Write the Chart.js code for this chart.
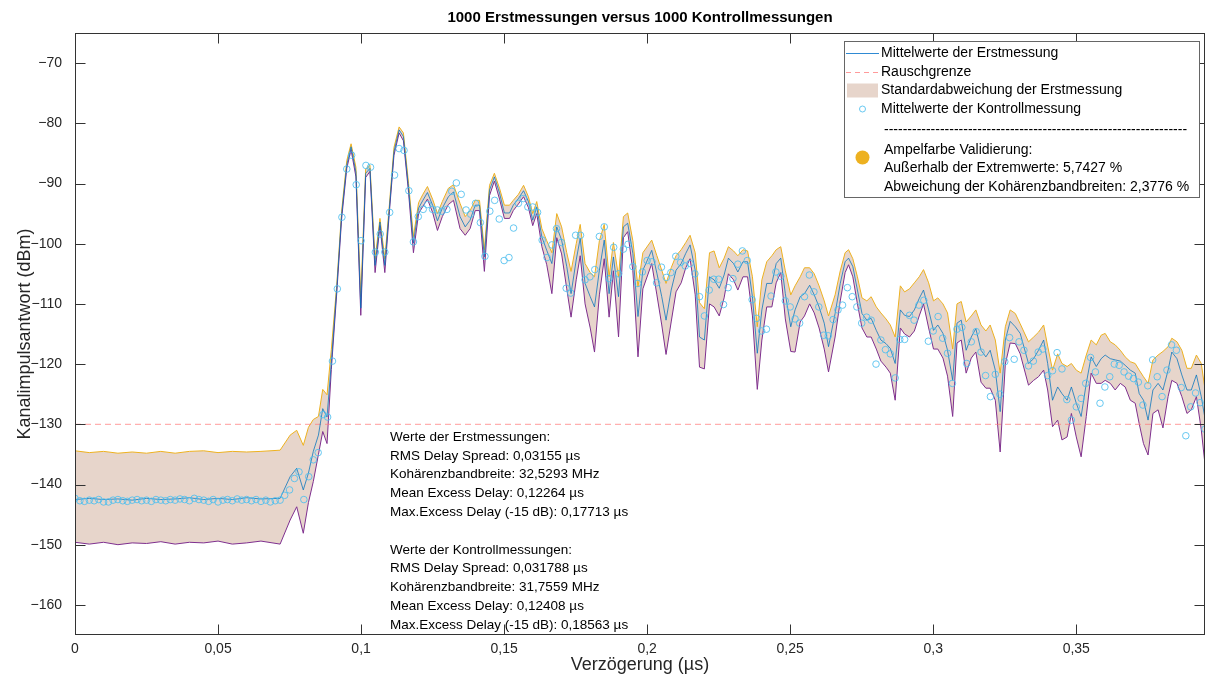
<!DOCTYPE html>
<html>
<head>
<meta charset="utf-8">
<script src="https://cdn.jsdelivr.net/npm/chart.js@4.4.1/dist/chart.umd.min.js"></script>
<style>
html,body{margin:0;padding:0;background:#fff;}
#wrap{width:1212px;height:684px;position:relative;}
</style>
</head>
<body>
<div id="wrap"><canvas id="c" width="1212" height="684" style="width:1212px;height:684px"></canvas></div>
<script>
// ---------- data ----------
const delays = [
  0, 0.005, 0.01, 0.015, 0.02, 0.025, 0.03, 0.035, 0.04, 0.045, 0.05, 0.055, 0.06, 0.065, 0.0717,
  0.0752, 0.0775, 0.0798, 0.0816, 0.0833, 0.0851, 0.0866, 0.0881, 0.0896, 0.0915, 0.0932, 0.095, 0.0965, 0.0982, 0.0999,
  0.1016, 0.1031, 0.1049, 0.1066, 0.1083, 0.1099, 0.1115, 0.1133, 0.1148, 0.1166, 0.1183, 0.1201, 0.1216, 0.1232, 0.125, 0.1267, 0.1284, 0.1305, 0.1323, 0.1346,
  0.1364, 0.1381, 0.1399, 0.1414, 0.1431, 0.1449, 0.1466, 0.1484, 0.1501, 0.1519, 0.1532, 0.155, 0.1568, 0.1585, 0.16, 0.1614, 0.1632, 0.1649, 0.1667, 0.1684,
  0.1701, 0.1719, 0.1734, 0.1752, 0.1766, 0.1783, 0.1801, 0.1816, 0.1833, 0.185, 0.1867, 0.1882, 0.19, 0.1917, 0.1932, 0.195, 0.1968, 0.1985,
  0.2016, 0.2034, 0.2051, 0.2066, 0.2084, 0.2101, 0.2119, 0.2135, 0.215, 0.2168, 0.2183, 0.22, 0.2218, 0.2234, 0.2252, 0.2269, 0.2284, 0.2302, 0.2317, 0.2335,
  0.2351, 0.2368, 0.2385, 0.2401, 0.2418, 0.2436, 0.2451, 0.2467, 0.2483, 0.2502, 0.2517, 0.2535, 0.255, 0.2568, 0.2584, 0.2601, 0.2619, 0.2634,
  0.2657, 0.2675, 0.2692, 0.2704, 0.2719, 0.2735, 0.2751, 0.2768, 0.2783, 0.2801, 0.2817, 0.2835, 0.285, 0.2867, 0.2885, 0.29, 0.2917, 0.2934, 0.2951, 0.2966,
  0.2984, 0.3001, 0.3016, 0.3034, 0.305, 0.3068, 0.3083, 0.3098, 0.3115, 0.3133, 0.3149, 0.3167, 0.3184, 0.3199, 0.3217, 0.3234, 0.3252, 0.3269,
  0.3287, 0.3304, 0.3333, 0.3351, 0.3368, 0.3386, 0.34, 0.3417, 0.3435, 0.345, 0.3468, 0.3483, 0.35, 0.3517, 0.3535, 0.3552, 0.357, 0.3587, 0.3601, 0.3619,
  0.3636, 0.3654, 0.3671, 0.3689, 0.3706, 0.372, 0.3735, 0.3751, 0.3768, 0.3786, 0.3803, 0.3821, 0.3834, 0.3852, 0.3869, 0.3887, 0.3902, 0.392, 0.3937, 0.3957
];

const meanErst = [
  -142.5, -142.3, -142.5, -142.4, -142.6, -142.3, -142.5, -142.4, -142.2, -142.5, -142.3, -142.5, -142.2, -142.4, -142.3,
  -138.7, -137.3, -140.9, -138.1, -134.5, -131.8, -127.4, -128.8, -119.8, -107.4, -95.2, -86.9, -83.9, -88.1, -110.7,
  -88.3, -87.5, -103.6, -96.4, -103.6, -94.1, -84.7, -81.1, -82.2, -90.8, -99.9, -94.1, -92.8, -91.5, -93.6, -96.2, -94.1, -92.2, -91.4, -95.5,
  -97.2, -96.1, -93.6, -93.6, -102.2, -91.1, -88.9, -91.6, -94.9, -94.9, -93.6, -92.5, -91.2, -93.0, -96.1, -93.9, -98.9, -101.1, -103.3, -97.2,
  -99.4, -103.8, -108.3, -102.7, -99.1, -106.6, -108.8, -110.5, -104.4, -99.4, -108.3, -102.2, -108.8, -97.2, -96.6, -101.6, -112.1, -104.4,
  -101.1, -104.9, -108.8, -112.7, -107.7, -104.4, -103.3, -101.6, -100.2, -104.4, -115.5, -116.0, -105.5, -106.0, -107.4, -105.2, -102.4, -103.3, -104.7, -103.0,
  -103.0, -108.8, -118.2, -111.0, -106.6, -106.6, -103.3, -102.4, -108.3, -113.8, -111.0, -108.8, -108.3, -106.9, -108.5, -110.5, -113.2, -117.1,
  -111.6, -106.6, -103.0, -102.4, -103.8, -107.7, -111.6, -112.7, -112.4, -114.4, -116.0, -116.6, -117.4, -119.9, -111.0, -111.9, -112.1, -111.0, -109.1, -107.7,
  -111.0, -114.4, -113.5, -114.9, -117.7, -122.7, -113.2, -112.7, -117.7, -115.5, -114.1, -117.7, -118.8, -117.7, -121.0, -127.9, -116.0, -112.9,
  -113.8, -114.9, -119.9, -119.1, -117.7, -116.0, -119.9, -126.0, -123.8, -124.9, -126.0, -123.8, -126.5, -128.7, -123.2, -118.8, -120.4, -119.1, -118.5, -119.1,
  -119.3, -119.5, -120.2, -121.0, -121.5, -124.9, -126.0, -129.3, -124.3, -123.2, -124.3, -121.0, -118.0, -119.1, -121.8, -124.3, -124.3, -121.8, -125.4, -131.0
];

const upperErst = [
  -134.4, -134.7, -134.5, -134.8, -134.6, -134.8, -134.5, -134.8, -134.5, -134.4, -134.7, -134.5, -134.6, -134.5, -134.3,
  -131.8, -131.0, -133.5, -130.5, -129.2, -128.7, -124.2, -125.1, -117.6, -106.8, -94.6, -86.2, -83.4, -87.3, -108.8,
  -87.6, -86.9, -102.5, -95.8, -102.5, -93.5, -84.0, -80.6, -81.6, -90.0, -98.8, -93.2, -91.8, -90.5, -92.6, -95.0, -93.0, -90.8, -90.2, -93.3,
  -95.5, -94.5, -92.8, -92.8, -101.0, -90.3, -88.3, -90.8, -93.6, -93.6, -92.8, -91.8, -90.3, -92.2, -95.0, -93.0, -97.5, -99.5, -101.5, -95.0,
  -97.2, -101.5, -104.6, -100.0, -96.8, -103.3, -104.8, -105.5, -99.5, -96.8, -105.5, -99.8, -105.5, -95.5, -94.9, -99.5, -107.2, -101.5,
  -99.4, -102.0, -104.4, -106.6, -104.0, -102.0, -101.0, -99.8, -98.6, -101.5, -109.8, -110.8, -101.5, -101.2, -104.0, -102.4, -100.5, -101.2, -102.0, -101.0,
  -101.2, -105.5, -113.8, -106.0, -103.0, -102.0, -101.0, -100.5, -104.5, -108.5, -107.0, -105.5, -104.0, -104.0, -105.0, -107.0, -109.5, -112.0,
  -108.5, -104.5, -101.5, -101.0, -102.5, -105.5, -109.0, -109.5, -108.8, -110.5, -111.5, -112.5, -113.5, -115.5, -107.0, -108.0, -107.5, -106.5, -105.5, -104.3,
  -106.5, -109.5, -109.0, -110.0, -111.5, -117.5, -110.0, -109.6, -113.0, -112.0, -111.0, -113.5, -114.5, -113.5, -116.0, -121.5, -113.8, -111.0,
  -111.6, -113.3, -116.3, -115.5, -114.7, -113.5, -117.0, -121.0, -118.3, -119.9, -120.4, -119.9, -121.0, -121.5, -118.5, -116.0, -116.8, -115.2, -114.9, -116.3,
  -116.8, -117.7, -118.8, -119.6, -119.9, -121.0, -122.1, -123.2, -119.3, -118.5, -117.9, -117.1, -115.7, -116.3, -117.7, -120.7, -120.7, -118.5, -119.9, -126.5
];

const lowerErst = [
  -149.6, -149.9, -149.6, -150.0, -149.7, -149.8, -149.5, -149.9, -149.6, -149.7, -149.4, -149.9, -149.7, -149.4, -149.9,
  -145.9, -143.7, -148.1, -143.0, -139.5, -135.0, -131.2, -133.2, -120.9, -108.2, -95.9, -87.5, -84.4, -88.9, -111.9,
  -89.0, -88.0, -104.8, -97.0, -104.8, -94.7, -85.3, -81.6, -82.9, -91.5, -101.5, -95.0, -93.8, -92.6, -94.8, -97.8, -95.5, -93.5, -92.8, -97.5,
  -98.6, -97.5, -94.5, -94.5, -104.6, -92.0, -89.6, -92.6, -95.8, -95.8, -94.5, -93.4, -92.2, -94.0, -97.0, -95.0, -100.5, -103.5, -108.3, -99.0,
  -101.7, -107.5, -112.2, -106.0, -102.0, -110.0, -114.0, -118.0, -108.5, -102.5, -112.2, -104.5, -115.5, -99.0, -98.0, -104.5, -118.8, -107.5,
  -103.3, -108.5, -113.5, -118.4, -113.0, -108.0, -106.5, -104.0, -102.5, -108.5, -120.5, -120.8, -110.0, -110.5, -112.0, -109.0, -105.0, -106.0, -107.7, -105.5,
  -105.5, -112.0, -124.2, -116.0, -110.5, -110.5, -106.5, -104.8, -112.5, -117.9, -118.0, -113.0, -112.0, -110.0, -111.5, -114.0, -117.5, -121.3,
  -115.5, -109.5, -104.8, -103.5, -105.5, -110.0, -114.0, -115.5, -115.5, -117.5, -119.5, -120.5, -121.5, -126.0, -114.0, -115.0, -115.5, -114.5, -112.0, -110.0,
  -114.0, -117.5, -117.5, -119.0, -122.0, -128.7, -116.5, -116.0, -121.5, -119.0, -118.0, -123.0, -124.0, -124.0, -126.0, -134.6, -120.0, -116.5,
  -116.6, -118.3, -123.5, -122.7, -122.1, -121.0, -124.3, -130.4, -129.3, -132.6, -132.1, -128.2, -132.1, -135.4, -128.7, -121.5, -123.2, -123.2, -122.7, -123.2,
  -124.3, -123.2, -123.8, -126.0, -126.5, -129.9, -133.2, -135.1, -128.2, -127.6, -130.6, -125.4, -122.7, -123.2, -125.4, -128.2, -127.6, -125.4, -130.9, -139.8
];

const ctrlDelays = [
  0, 0.0017, 0.0033, 0.005, 0.0067, 0.0083, 0.01, 0.0117, 0.0133, 0.015,
  0.0167, 0.0183, 0.02, 0.0217, 0.0233, 0.025, 0.0267, 0.0283, 0.03, 0.0317,
  0.0333, 0.035, 0.0367, 0.0383, 0.04, 0.0417, 0.0433, 0.045, 0.0467, 0.0483,
  0.05, 0.0517, 0.0533, 0.055, 0.0567, 0.0583, 0.06, 0.0617, 0.0633, 0.065,
  0.0667, 0.0683, 0.07, 0.0717,
  0.0733, 0.075, 0.0767, 0.0783, 0.08, 0.0817, 0.0833, 0.085, 0.0867, 0.0883,
  0.09, 0.0917, 0.0933, 0.095, 0.0967, 0.0983, 0.1, 0.1017, 0.1033, 0.105,
  0.1067, 0.1083, 0.11, 0.1117, 0.1133, 0.115, 0.1167, 0.1183, 0.12, 0.1217,
  0.1233, 0.125, 0.1267, 0.1283, 0.13, 0.1317, 0.1333, 0.135, 0.1367, 0.1383,
  0.14, 0.1417, 0.1433, 0.145, 0.1467, 0.1483, 0.15, 0.1517, 0.1533, 0.155,
  0.1567, 0.1583, 0.16, 0.1617, 0.1633, 0.165, 0.1667, 0.1683, 0.17, 0.1717,
  0.1733, 0.175, 0.1767, 0.1783, 0.18, 0.1817, 0.1833, 0.185, 0.1867, 0.1883,
  0.19, 0.1917, 0.1933, 0.195, 0.1967, 0.1983, 0.2, 0.2017, 0.2033, 0.205,
  0.2067, 0.2083, 0.21, 0.2117, 0.2133, 0.215, 0.2167, 0.2183, 0.22, 0.2217,
  0.2233, 0.225, 0.2267, 0.2283, 0.23, 0.2317, 0.2333, 0.235, 0.2367, 0.2383,
  0.24, 0.2417, 0.2433, 0.245, 0.2467, 0.2483, 0.25, 0.2517, 0.2533, 0.255,
  0.2567, 0.2583, 0.26, 0.2617, 0.2633, 0.265, 0.2667, 0.2683, 0.27, 0.2717,
  0.2733, 0.275, 0.2767, 0.2783, 0.28, 0.2817, 0.2833, 0.285, 0.2867, 0.2883,
  0.29, 0.2917, 0.2933, 0.295, 0.2967, 0.2983, 0.3, 0.3017, 0.3033, 0.305,
  0.3067, 0.3083, 0.31, 0.3117, 0.3133, 0.315, 0.3167, 0.3183, 0.32, 0.3217,
  0.3233, 0.325, 0.3267, 0.3283, 0.33, 0.3317, 0.3333, 0.335, 0.3367, 0.3383,
  0.34, 0.3417, 0.3433, 0.345, 0.3467, 0.3483, 0.35, 0.3517, 0.3533, 0.355,
  0.3567, 0.3583, 0.36, 0.3617, 0.3633, 0.365, 0.3667, 0.3683, 0.37, 0.3717,
  0.3733, 0.375, 0.3767, 0.3783, 0.38, 0.3817, 0.3833, 0.385, 0.3867, 0.3883,
  0.39, 0.3917, 0.3933, 0.395
];

const ctrlValues = [
  -142.3, -142.7, -142.8, -142.6, -142.7, -142.5, -142.9, -142.9, -142.6, -142.5,
  -142.7, -142.8, -142.6, -142.5, -142.7, -142.6, -142.8, -142.5, -142.6, -142.7,
  -142.5, -142.6, -142.4, -142.5, -142.7, -142.3, -142.5, -142.6, -142.8, -142.5,
  -142.9, -142.6, -142.5, -142.7, -142.4, -142.6, -142.5, -142.7, -142.5, -142.8,
  -142.6, -142.9, -142.7, -142.6,
  -141.8, -140.9, -139.0, -137.9, -142.5, -138.7, -135.9, -134.7, -128.4, -128.8,
  -119.5, -107.5, -95.6, -87.6, -85.3, -90.2, -99.5, -87.0, -87.3, -101.4,
  -98.4, -101.4, -94.8, -88.6, -84.2, -84.5, -91.2, -99.7, -95.5, -94.3,
  -93.5, -94.3, -94.4, -94.6, -94.3, -91.3, -89.9, -91.8, -94.4, -95.1,
  -93.3, -96.5, -102.1, -94.6, -92.8, -95.9, -102.8, -102.3, -97.4, -93.3,
  -92.5, -93.9, -93.9, -94.8, -99.4, -102.3, -100.2, -97.5, -99.8, -107.4,
  -108.2, -98.6, -98.6, -106.0, -105.5, -104.3, -98.8, -97.2, -105.8, -100.6,
  -105.0, -100.9, -100.1, -103.8, -106.6, -104.7, -102.8, -103.0, -106.5, -103.9,
  -105.6, -104.8, -102.1, -103.1, -103.7, -103.3, -105.0, -108.8, -112.0, -107.7,
  -105.9, -105.9, -110.1, -107.3, -105.8, -103.4, -101.2, -102.8, -109.3, -112.4,
  -114.5, -114.2, -108.7, -104.7, -105.4, -109.5, -110.5, -112.5, -113.2, -108.8,
  -105.2, -108.0, -110.5, -115.2, -115.3, -112.6, -111.0, -110.2, -107.3, -108.8,
  -110.5, -113.2, -112.2, -112.7, -120.0, -116.0, -117.6, -118.3, -122.3, -115.9,
  -115.9, -111.9, -112.7, -110.2, -109.4, -116.2, -114.5, -112.1, -115.7, -118.2,
  -123.2, -114.2, -113.9, -119.9, -116.3, -114.6, -118.0, -121.9, -125.4, -121.7,
  -125.0, -119.6, -115.6, -119.2, -116.3, -117.7, -120.3, -119.5, -118.0, -117.5,
  -121.9, -121.1, -118.1, -120.8, -125.9, -129.3, -127.1, -125.7, -123.2, -118.9,
  -121.3, -126.5, -123.8, -122.1, -120.0, -120.2, -121.3, -122.0, -122.4, -123.0,
  -126.8, -123.6, -119.3, -122.1, -125.4, -121.0, -116.8, -117.7, -123.9, -131.9,
  -127.1, -124.8, -126.4, -130.8
];

const noiseFloor = -130;
const xRange = [0, 0.395];
const yRange = [-165, -65];
const xTicks = [0, 0.05, 0.1, 0.15, 0.2, 0.25, 0.3, 0.35];
const yTicks = [-160, -150, -140, -130, -120, -110, -100, -90, -80, -70];

const chartTitle = '1000 Erstmessungen versus 1000 Kontrollmessungen';
const xTitle = 'Verzögerung (µs)';
const yTitle = 'Kanalimpulsantwort (dBm)';
const legendLabels = [
  'Mittelwerte der Erstmessung',
  'Rauschgrenze',
  'Standardabweichung der Erstmessung',
  'Mittelwerte der Kontrollmessung'
];
const legendSeparator = '-----------------------------------------------------------------';
const validationLines = [
  'Ampelfarbe Validierung:',
  'Außerhalb der Extremwerte: 5,7427 %',
  'Abweichung der Kohärenzbandbreiten: 2,3776 %'
];
const statsErst = [
  'Werte der Erstmessungen:',
  'RMS Delay Spread: 0,03155 µs',
  'Kohärenzbandbreite: 32,5293 MHz',
  'Mean Excess Delay: 0,12264 µs',
  'Max.Excess Delay (-15 dB): 0,17713 µs'
];
const statsKontroll = [
  'Werte der Kontrollmessungen:',
  'RMS Delay Spread: 0,031788 µs',
  'Kohärenzbandbreite: 31,7559 MHz',
  'Mean Excess Delay: 0,12408 µs',
  'Max.Excess Delay (-15 dB): 0,18563 µs'
];

// ---------- styles ----------
const FONT = '"Liberation Sans", Arial, Helvetica, sans-serif';
const C_MEAN = 'rgba(0,114,189,0.75)';
const C_MEAN_LEGEND = '#2f8ad3';
const C_UPPER = '#EDB120';
const C_LOWER = '#7E2F8E';
const C_FILL = '#e7d5cb';
const C_CTRL = 'rgba(77,190,238,0.85)';
const C_NOISE = 'rgba(255,120,120,0.75)';
const C_AMPEL = '#EDB120';
const C_AXIS = '#333333';
const C_TEXT = '#262626';

const toXY = (xs, ys) => xs.map((x, i) => ({x: x, y: ys[i]}));
const fmtX = v => String(v).replace('.', ',');
const fmtY = v => String(v).replace('-', '\u2212');

const framePlugin = {
  id: 'frame',
  afterDraw(chart) {
    const ctx = chart.ctx;
    const a = chart.chartArea;
    const xs = chart.scales.x, ys = chart.scales.y;
    const L = Math.round(a.left) + 0.5, R = Math.round(a.right) - 0.5;
    const T = Math.round(a.top) + 0.5, B = Math.round(a.bottom) - 0.5;
    const tl = 10;
    ctx.save();
    // axes box + inward ticks
    ctx.strokeStyle = C_AXIS;
    ctx.lineWidth = 1;
    ctx.setLineDash([]);
    ctx.strokeRect(L, T, R - L, B - T);
    ctx.beginPath();
    xTicks.forEach(v => {
      const p = Math.round(xs.getPixelForValue(v)) + 0.5;
      ctx.moveTo(p, B); ctx.lineTo(p, B - tl);
      ctx.moveTo(p, T); ctx.lineTo(p, T + tl);
    });
    yTicks.forEach(v => {
      const p = Math.round(ys.getPixelForValue(v)) + 0.5;
      ctx.moveTo(L, p); ctx.lineTo(L + tl, p);
      ctx.moveTo(R, p); ctx.lineTo(R - tl, p);
    });
    ctx.stroke();

    // title
    ctx.fillStyle = '#000';
    ctx.font = 'bold 15px ' + FONT;
    ctx.textAlign = 'center';
    ctx.textBaseline = 'middle';
    ctx.fillText(chartTitle, (a.left + a.right) / 2, 18);

    // legend box
    const lx = 844, ly = 41, lw = 355, lh = 156;
    ctx.fillStyle = '#fff';
    ctx.fillRect(lx, ly, lw, lh);
    ctx.strokeStyle = '#666';
    ctx.strokeRect(lx + 0.5, ly + 0.5, lw, lh);
    ctx.font = '14px ' + FONT;
    ctx.textAlign = 'left';
    ctx.textBaseline = 'middle';
    const tx = 881;
    const rows = [53, 72, 90.5, 109];
    // mean line sample
    ctx.strokeStyle = C_MEAN_LEGEND; ctx.lineWidth = 1;
    ctx.beginPath(); ctx.moveTo(846, rows[0] + 0.5); ctx.lineTo(879, rows[0] + 0.5); ctx.stroke();
    // noise dashed sample
    ctx.strokeStyle = C_NOISE; ctx.setLineDash([5, 4]);
    ctx.beginPath(); ctx.moveTo(846, rows[1] + 0.5); ctx.lineTo(879, rows[1] + 0.5); ctx.stroke();
    ctx.setLineDash([]);
    // patch
    ctx.fillStyle = C_FILL;
    ctx.fillRect(847, rows[2] - 7, 31, 14);
    // circle
    ctx.strokeStyle = C_CTRL;
    ctx.beginPath(); ctx.arc(862.5, rows[3], 3, 0, Math.PI * 2); ctx.stroke();
    ctx.fillStyle = '#000';
    legendLabels.forEach((t, i) => ctx.fillText(t, tx, rows[i]));
    ctx.fillText(legendSeparator, 884, 130);
    // Ampel dot
    ctx.fillStyle = C_AMPEL;
    ctx.beginPath(); ctx.arc(862.5, 157.5, 7, 0, Math.PI * 2); ctx.fill();
    ctx.fillStyle = '#000';
    const vRows = [150, 168.5, 187];
    validationLines.forEach((t, i) => ctx.fillText(t, 884, vRows[i]));

    // statistics annotation
    ctx.font = '13.5px ' + FONT;
    ctx.fillStyle = '#000';
    const sx = 390, step = 18.8;
    statsErst.forEach((t, i) => ctx.fillText(t, sx, 437 + i * step));
    statsKontroll.forEach((t, i) => ctx.fillText(t, sx, 437 + (i + 6) * step));
    ctx.restore();
  }
};

const ctx = document.getElementById('c').getContext('2d');
new Chart(ctx, {
  type: 'line',
  data: {
    datasets: [
      {
        label: legendLabels[3],
        data: toXY(ctrlDelays, ctrlValues),
        showLine: false,
        pointStyle: 'circle',
        pointRadius: 3.3,
        pointBorderWidth: 1,
        pointBorderColor: C_CTRL,
        pointBackgroundColor: 'rgba(0,0,0,0)',
        borderColor: C_CTRL,
        fill: false
      },
      {
        label: legendLabels[0],
        data: toXY(delays, meanErst),
        borderColor: C_MEAN,
        borderWidth: 1,
        pointRadius: 0,
        tension: 0,
        fill: false
      },
      {
        label: legendLabels[1],
        data: [{x: xRange[0], y: noiseFloor}, {x: xRange[1], y: noiseFloor}],
        borderColor: C_NOISE,
        borderWidth: 1,
        borderDash: [6, 4],
        pointRadius: 0,
        fill: false
      },
      {
        label: 'untere Grenze',
        data: toXY(delays, lowerErst),
        borderColor: C_LOWER,
        borderWidth: 1,
        pointRadius: 0,
        tension: 0,
        fill: false
      },
      {
        label: legendLabels[2],
        data: toXY(delays, upperErst),
        borderColor: C_UPPER,
        borderWidth: 1,
        pointRadius: 0,
        tension: 0,
        backgroundColor: C_FILL,
        fill: '-1'
      }
    ]
  },
  options: {
    responsive: false,
    animation: false,
    devicePixelRatio: 1,
    events: [],
    layout: {padding: {top: 33, right: 7, left: 0, bottom: 0}},
    plugins: {
      legend: {display: false},
      tooltip: {enabled: false},
      title: {display: false},
      filler: {propagate: false}
    },
    scales: {
      x: {
        type: 'linear',
        min: xRange[0],
        max: xRange[1],
        grid: {display: false, drawTicks: false},
        border: {display: false},
        afterBuildTicks: s => { s.ticks = xTicks.map(v => ({value: v})); },
        afterFit: s => { s.height = 49; },
        ticks: {
          autoSkip: false,
          maxRotation: 0,
          padding: 6,
          color: C_TEXT,
          font: {family: FONT, size: 14},
          callback: v => fmtX(v)
        },
        title: {
          display: true,
          text: xTitle,
          color: C_TEXT,
          font: {family: FONT, size: 18},
          padding: {top: 0, bottom: 8}
        }
      },
      y: {
        type: 'linear',
        min: yRange[0],
        max: yRange[1],
        grid: {display: false, drawTicks: false},
        border: {display: false},
        afterBuildTicks: s => { s.ticks = yTicks.map(v => ({value: v})); },
        afterFit: s => { s.width = 75; },
        ticks: {
          autoSkip: false,
          padding: 13,
          color: C_TEXT,
          font: {family: FONT, size: 14},
          callback: v => fmtY(v)
        },
        title: {
          display: true,
          text: yTitle,
          color: C_TEXT,
          font: {family: FONT, size: 18},
          padding: {top: 14, bottom: 0}
        }
      }
    }
  },
  plugins: [framePlugin]
});
</script>
</body>
</html>
